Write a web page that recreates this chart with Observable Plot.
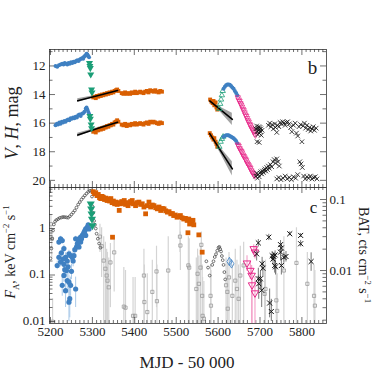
<!DOCTYPE html>
<html><head><meta charset="utf-8">
<script src="https://cdn.jsdelivr.net/npm/d3@7"></script>
<script src="https://cdn.jsdelivr.net/npm/@observablehq/plot@0.6"></script>
<style>
html,body{margin:0;padding:0;background:#fff;}
#chart{position:relative;width:374px;height:374px;overflow:hidden;font-family:"Liberation Serif","DejaVu Serif",serif;color:#222;}
#chart svg{position:absolute;left:0;font-family:"Liberation Serif","DejaVu Serif",serif !important;}
.lab{position:absolute;white-space:nowrap;line-height:1;}
sup,sub{font-size:0.62em;line-height:0;}
</style></head><body><div id="chart"></div>
<script>
// ---------- tick values ----------
const xMinor = d3.range(5200, 5851, 10);
const xMajor = [5200, 5300, 5400, 5500, 5600, 5700, 5800];
const xLabels = [5200, 5300, 5400, 5500, 5600, 5700, 5800];
const magMajor = [12, 14, 16, 18, 20];
const magMinor = [11, 13, 15, 17, 19];
const faMajor = [0.01, 0.1, 1];
const faMinor = [0.02,0.03,0.04,0.05,0.06,0.07,0.08,0.09,0.2,0.3,0.4,0.5,0.6,0.7,0.8,0.9,2,3,4,5,6,7];
const batMajor = [0.01, 0.1];
const batMinor = [0.002,0.003,0.004,0.005,0.006,0.007,0.008,0.009,0.02,0.03,0.04,0.05,0.06,0.07,0.08,0.09];

// ---------- panel b : magnitudes [MJD-50000, mag] ----------
const vBlueA = [[5212,12.0],[5216,12.05],[5220,11.95],[5224,11.9],[5228,11.85],[5231,11.9],[5234,11.8],[5237,11.85],[5240,11.9],[5243,11.8],[5246,11.85],[5249,11.75],[5252,11.8],[5255,11.7],[5258,11.75],[5261,11.65],[5264,11.6],[5267,11.65],[5270,11.55],[5273,11.5],[5276,11.45],[5278,11.5],[5280,11.35],[5282,11.3],[5284,11.25],[5286,11.15],[5288,11.2],[5290,11.3],[5292,11.4]];
const hBlueA = [[5212,16.15],[5215,16.05],[5218,16.1],[5221,15.95],[5224,16.05],[5227,15.9],[5230,15.95],[5233,15.85],[5236,15.9],[5239,15.8],[5242,15.75],[5245,15.8],[5248,15.65],[5251,15.7],[5254,15.6],[5257,15.65],[5260,15.55],[5263,15.6],[5266,15.45],[5269,15.4],[5272,15.5],[5275,15.35],[5278,15.3],[5281,15.2],[5284,15.0],[5286,14.9],[5288,15.05],[5290,15.2],[5292,15.35]];
const vGreenA = [[5293,11.8],[5294,12.0],[5295,12.15],[5296,12.6],[5298,13.65],[5299,13.85]];
const hGreenA = [[5294,15.5],[5295,15.7],[5297,16.1],[5298,16.35]];
const vOrangeA = [[5302,14.2],[5305,14.15],[5308,14.25],[5311,14.1],[5314,14.15],[5317,14.05],[5320,14.1],[5323,14.0],[5326,14.05],[5329,13.95],[5332,14.0],[5335,13.9],[5338,13.95],[5341,13.85],[5344,13.9],[5347,13.8],[5350,13.85],[5353,13.75],[5356,13.7],[5359,13.65],[5362,13.75],[5370,13.9],[5374,13.95],[5378,13.85],[5382,13.95],[5386,13.9],[5390,13.95],[5394,13.85],[5398,13.9],[5402,13.8],[5406,13.9],[5410,13.85],[5414,13.8],[5418,13.85],[5422,13.9],[5426,13.8],[5430,13.75],[5434,13.85],[5438,13.7],[5442,13.75],[5446,13.8],[5450,13.7],[5454,13.8],[5458,13.85],[5462,13.75],[5466,13.8]];
const hOrangeA = [[5302,16.6],[5305,16.55],[5308,16.65],[5311,16.5],[5314,16.5],[5317,16.4],[5320,16.45],[5323,16.35],[5326,16.4],[5329,16.3],[5332,16.3],[5335,16.2],[5338,16.25],[5341,16.15],[5344,16.15],[5347,16.05],[5350,16.1],[5353,15.95],[5356,15.9],[5359,15.8],[5362,15.9],[5370,16.1],[5374,16.15],[5378,16.05],[5382,16.2],[5386,16.1],[5390,16.15],[5394,16.05],[5398,16.1],[5402,16.0],[5406,16.1],[5410,16.05],[5414,16.0],[5418,16.05],[5422,16.1],[5426,16.0],[5430,15.95],[5434,16.05],[5438,15.9],[5442,15.95],[5446,15.9],[5450,15.95],[5454,16.0],[5458,16.05],[5462,15.95],[5466,16.0]];
const vOrangeB = [[5581,14.35],[5584,14.5],[5587,14.6],[5589,14.45],[5591,14.75],[5594,14.55],[5596,14.9],[5598,15.05]];
const hOrangeB = [[5580,16.7],[5583,16.85],[5586,17.0],[5589,17.15],[5591,17.05],[5594,17.3],[5596,17.45],[5598,17.65]];
const vGreenB = [[5603,15.0],[5605,14.65],[5607,14.35],[5609,14.05],[5611,13.75]];
const hGreenB = [[5603,17.65],[5606,17.3],[5609,17.1],[5612,16.95]];
const vBlueB = [[5613,13.6],[5616,13.45],[5619,13.35],[5622,13.3],[5625,13.3],[5628,13.32],[5631,13.4],[5634,13.5],[5637,13.6],[5640,13.75],[5643,13.9],[5646,14.05]];
const hBlueB = [[5613,16.95],[5616,16.9],[5619,16.85],[5622,16.85],[5625,16.85],[5628,16.9],[5631,16.95],[5634,17.0],[5637,17.05],[5640,17.15],[5643,17.25],[5646,17.4]];
const vPinkB = [[5647,14.2],[5649,14.35],[5651,14.45],[5653,14.6],[5655,14.7],[5657,14.85],[5659,15.0],[5661,15.1],[5663,15.25],[5665,15.4],[5667,15.5],[5669,15.65],[5671,15.8],[5673,15.9],[5675,16.05],[5677,16.15],[5679,16.3],[5681,16.4],[5683,16.5],[5685,16.6],[5687,16.75],[5689,16.85]];
const hPinkB = [[5647,17.5],[5649,17.6],[5651,17.75],[5653,17.85],[5655,17.95],[5657,18.05],[5659,18.2],[5661,18.3],[5663,18.4],[5665,18.5],[5667,18.6],[5669,18.75],[5671,18.85],[5673,18.95],[5675,19.05],[5677,19.15],[5679,19.3],[5681,19.4],[5683,19.5],[5685,19.6],[5687,19.7]];
const vBlackB = [[5690,16.4],[5692,16.2],[5693,16.6],[5694,16.35],[5695,16.8],[5696,16.5],[5697,16.25],[5698,16.7],[5699,16.45],[5700,16.3],[5701,16.6],[5702,16.4],[5703,16.85],[5693,17.3],[5698,17.35],[5705,16.5],[5720,16.15],[5723,16.0],[5726,16.25],[5729,16.1],[5732,16.4],[5735,16.05],[5737,16.3],[5740,16.65],[5742,16.15],[5745,16.25],[5748,15.95],[5751,16.05],[5754,15.9],[5757,16.0],[5760,16.15],[5763,15.95],[5766,15.9],[5770,16.05],[5773,16.3],[5776,16.6],[5780,16.15],[5784,16.0],[5787,16.7],[5790,16.9],[5793,16.25],[5797,16.1],[5800,17.3],[5803,16.2],[5806,16.0],[5809,16.35],[5812,16.15],[5815,16.45],[5818,16.3],[5821,16.55],[5824,16.4],[5827,16.25],[5830,16.5],[5834,16.35]];
const hBlackB = [[5690,19.7],[5692,19.5],[5694,19.85],[5696,19.6],[5698,19.75],[5700,19.5],[5702,19.4],[5704,19.55],[5706,19.35],[5708,19.45],[5710,19.3],[5712,19.2],[5714,19.35],[5716,19.1],[5718,19.25],[5720,19.0],[5722,19.15],[5725,18.9],[5728,19.05],[5731,18.7],[5734,18.55],[5737,18.8],[5740,18.5],[5743,18.7],[5746,19.0],[5740,19.9],[5745,19.8],[5750,19.95],[5755,19.85],[5760,19.7],[5765,19.9],[5770,19.8],[5775,19.95],[5780,19.75],[5785,19.85],[5790,19.6],[5795,18.7],[5798,18.85],[5801,19.1],[5804,19.7],[5808,19.9],[5812,19.75],[5816,19.85],[5820,19.7],[5824,19.9],[5828,19.8],[5832,19.75],[5836,19.9]];
// linear fits [MJD, mag, lower, upper]
const fitVA = [[5265,14.43,14.30,14.56],[5312,14.08,14.03,14.13],[5360,13.72,13.65,13.79]];
const fitHA = [[5265,16.83,16.70,16.96],[5312,16.38,16.33,16.43],[5360,15.94,15.87,16.01]];
const fitVB = [[5580,14.45,14.40,14.50],[5607,15.09,14.90,15.28],[5634,15.73,15.30,16.16]];
const fitHB = [[5580,16.73,16.68,16.78],[5607,17.97,17.75,18.19],[5634,19.20,18.70,19.70]];

// ---------- panel c : F_A (left axis) [MJD, F, lo, hi] ----------
const faBlue = [[5216,0.16,0.13,0.2],[5220,0.51,0.44,0.58],[5224,0.6,0.52,0.68],[5228,0.55,0.47,0.63],[5232,0.37,0.3,0.44],[5220,0.24,0.19,0.3],[5224,0.19,0.15,0.24],[5232,0.17,0.13,0.22],[5236,0.24,0.19,0.3],[5240,0.2,0.15,0.26],[5244,0.285,0.23,0.34],[5248,0.26,0.2,0.32],[5252,0.24,0.18,0.3],[5256,0.26,0.21,0.32],[5238,0.125,0.09,0.17],[5228,0.06,0.035,0.1],[5240,0.076,0.05,0.11],[5244,0.07,0.04,0.1],[5248,0.06,0.035,0.09],[5236,0.046,0.02,0.08],[5260,0.05,0.02,0.09],[5244,0.026,0.01,0.06],[5246,0.031,0.012,0.07],[5232,0.098,0.07,0.13],[5226,0.3,0.24,0.36],[5230,0.22,0.17,0.28],[5234,0.13,0.09,0.18],[5242,0.15,0.1,0.2],[5250,0.12,0.08,0.17],[5254,0.2,0.15,0.26],[5258,0.35,0.29,0.42],[5262,0.4,0.33,0.47],[5264,0.47,0.4,0.55],[5266,0.5,0.43,0.58],[5268,0.4,0.34,0.47],[5268,0.6,0.52,0.68],[5270,0.55,0.48,0.63],[5272,0.51,0.44,0.58],[5272,0.65,0.57,0.73],[5274,0.6,0.53,0.68],[5276,0.71,0.63,0.8],[5278,0.75,0.67,0.84],[5280,0.83,0.74,0.92],[5282,0.9,0.8,1.0],[5284,0.98,0.88,1.08],[5284,0.71,0.63,0.8],[5286,1.0,0.9,1.1],[5288,1.07,0.96,1.18],[5290,1.2,1.08,1.32],[5292,0.98,0.88,1.08],[5260,0.6,0.52,0.68]];
const faGreen = [[5296,3.4],[5297,2.65],[5298,2.07],[5299,1.6],[5300,1.16]];
const faOrange = [[5302,6.2],[5305,5.6],[5308,5.9],[5311,5.1],[5314,5.4],[5317,4.6],[5320,4.4],[5323,4.9],[5326,4.7],[5329,4.2],[5332,4.5],[5335,4.0],[5338,4.3],[5341,3.9],[5344,4.4],[5347,3.6],[5350,3.9],[5353,3.4],[5356,3.7],[5359,3.3],[5362,3.6],[5364,2.45],[5367,3.4],[5370,3.8],[5373,3.5],[5376,4.0],[5379,3.3],[5382,3.6],[5385,3.1],[5388,3.5],[5391,3.8],[5395,4.0],[5398,3.4],[5403,3.1],[5407,3.6],[5411,3.7],[5415,3.3],[5419,3.4],[5423,2.9],[5427,2.07],[5431,3.1],[5435,3.7],[5439,2.9],[5443,3.2],[5447,3.1],[5451,2.8],[5455,2.65],[5459,2.9],[5463,2.44],[5467,2.7],[5471,2.65],[5475,2.4],[5479,2.25],[5483,2.3],[5487,2.07],[5491,2.1],[5494,1.9],[5498,1.95],[5502,1.75],[5506,1.8],[5510,1.9],[5514,1.7],[5518,1.6],[5522,1.65],[5526,1.49],[5530,1.6],[5532,1.25],[5534,1.35],[5536,1.3],[5538,1.45],[5540,1.5],[5542,1.2],[5528,0.81],[5348,0.65],[5554,0.73],[5562,0.31]];
const faBlueOpen = [[5627,0.195,0.17,0.23],[5632,0.174,0.15,0.2]];
const faPink = [[5669,0.18,0.12,0.26],[5677,0.125,0.08,0.2],[5680,0.098,0.009,0.16],[5681,0.061,0.009,0.12],[5685,0.366,0.28,0.45],[5688,0.31,0.22,0.4],[5688,0.041,0.009,0.09]];
const faBlack = [[5692,0.285,0.2,0.38],[5696,0.49,0.4,0.58],[5696,0.083,0.04,0.14],[5697,0.065,0.03,0.1],[5701,0.083,0.05,0.12],[5704,0.047,0.02,0.08],[5705,0.174,0.12,0.24],[5707,0.14,0.09,0.2],[5721,0.65,0.55,0.75],[5723,0.025,0.012,0.05],[5727,0.0164,0.01,0.03],[5729,0.26,0.2,0.32],[5731,0.22,0.17,0.28],[5733,0.25,0.2,0.3],[5735,0.16,0.11,0.22],[5737,0.15,0.1,0.21],[5736,0.27,0.22,0.33],[5749,0.45,0.36,0.55],[5751,0.38,0.3,0.47],[5749,0.31,0.2,0.45],[5751,0.16,0.1,0.24],[5757,0.24,0.18,0.3],[5762,0.25,0.19,0.32],[5771,0.77,0.7,0.85],[5797,0.71,0.64,0.78],[5797,0.47,0.4,0.55],[5822,0.195,0.12,0.3]];

// ---------- panel c : BAT (right axis) ----------
const batDark = [[5200,0.0148],[5202,0.0204],[5204,0.0282],[5206,0.0366],[5208,0.0445],[5211,0.049],[5214,0.0514],[5218,0.053],[5222,0.055],[5226,0.0558],[5230,0.0567],[5234,0.0565],[5238,0.056],[5242,0.0555],[5246,0.058],[5250,0.0615],[5254,0.0656],[5258,0.07],[5262,0.077],[5266,0.085],[5270,0.092],[5274,0.1],[5278,0.107],[5282,0.114],[5286,0.121],[5290,0.128],[5294,0.132],[5298,0.134],[5299,0.11],[5300,0.08],[5302,0.065],[5304,0.05],[5306,0.044],[5308,0.039],[5310,0.033],[5313,0.028],[5316,0.024],[5319,0.021],[5572,0.0135],[5576,0.011],[5580,0.0085],[5586,0.012],[5589,0.0135],[5592,0.0155],[5595,0.017],[5598,0.019],[5601,0.021],[5603,0.0215],[5605,0.02],[5607,0.0185],[5609,0.016],[5611,0.014],[5613,0.012],[5615,0.0095],[5617,0.0075]];
const batLight = [[5201,0.045,0.03,0.06],[5203,0.028,0.015,0.04],[5205,0.0019,0.0015,0.004],[5318,0.03,0.018,0.045],[5322,0.022,0.008,0.04],[5327,0.0138,0.0015,0.03],[5331,0.0106,0.0015,0.025],[5334,0.0085,0.0015,0.02],[5336,0.0072,0.0015,0.018],[5339,0.0058,0.0015,0.015],[5343,0.013,0.003,0.024],[5352,0.018,0.005,0.03],[5375,0.0031,0.0015,0.011],[5379,0.003,0.0015,0.01],[5397,0.0023,0.0015,0.008],[5402,0.0023,0.0015,0.008],[5423,0.0085,0.0015,0.02],[5424,0.0036,0.0015,0.012],[5431,0.0026,0.0015,0.009],[5443,0.005,0.0015,0.014],[5453,0.0097,0.003,0.022],[5454,0.0037,0.0015,0.012],[5481,0.01,0.0015,0.03],[5509,0.03,0.018,0.05],[5510,0.0225,0.01,0.035],[5529,0.0118,0.0015,0.03],[5531,0.011,0.0015,0.028],[5548,0.0055,0.0015,0.015],[5551,0.009,0.0015,0.02],[5554,0.0065,0.0015,0.016],[5558,0.011,0.0015,0.022],[5560,0.023,0.01,0.035],[5562,0.0044,0.0015,0.012],[5563,0.0023,0.0015,0.008],[5566,0.0021,0.0015,0.007],[5582,0.0044,0.0015,0.012],[5583,0.0032,0.0015,0.01],[5619,0.0062,0.0015,0.015],[5622,0.005,0.0015,0.013],[5623,0.0029,0.0015,0.009],[5626,0.008,0.0015,0.018],[5634,0.0044,0.0015,0.012],[5641,0.0072,0.0015,0.02],[5645,0.0055,0.0015,0.014],[5649,0.004,0.0015,0.012],[5653,0.0085,0.0015,0.022],[5661,0.0118,0.0015,0.025],[5711,0.0047,0.0015,0.012],[5713,0.0055,0.0015,0.014],[5739,0.0038,0.0015,0.011],[5741,0.0027,0.0015,0.009],[5757,0.01,0.0015,0.03],[5787,0.0128,0.0015,0.04],[5813,0.0065,0.0015,0.018],[5829,0.0044,0.0015,0.012],[5831,0.0032,0.0015,0.01]];

// ---------- build ----------
const C = {blue:"#3f80c2", green:"#1b9e77", orange:"#d95f02", pink:"#e7298a", black:"#111", dark:"#505050", light:"#9a9a9a", lightBar:"#d4d4d4", tick:"#333"};
const W = 374, ML = 49, MR = 48;
const FW = W - ML - MR;
const TH = 187 - 49, BH = 187 - 51;
const xDomain = [5197.6, 5858.7];
const FONT = '"Liberation Serif","DejaVu Serif",serif';
const TF = {fontFamily: FONT, fontSize: 13};

const P = a => a.map(([x, y, lo, hi]) => ({x, y, lo, hi}));
const F = (arrs) => arrs.flatMap(([id, a]) => a.map(([x, y, lo, hi]) => ({id, x, y, lo, hi})));

function xTicks(fh) {
  const minor = xMinor.filter(d => d % 100 !== 0);
  const o = {x: d => d, stroke: C.tick, strokeWidth: 0.7};
  return [
    Plot.tickX(minor, {...o, insetBottom: fh - 3}),
    Plot.tickX(minor, {...o, insetTop: fh - 3}),
    Plot.tickX(xMajor, {...o, insetBottom: fh - 6}),
    Plot.tickX(xMajor, {...o, insetTop: fh - 6})
  ];
}
function yTicks(major, minor, side) {
  const o = {y: d => d, stroke: C.tick, strokeWidth: 0.7};
  const m = [];
  if (side !== "right") m.push(Plot.tickY(minor, {...o, insetRight: FW - 3.5}), Plot.tickY(major, {...o, insetRight: FW - 6}));
  if (side !== "left") m.push(Plot.tickY(minor, {...o, insetLeft: FW - 3.5}), Plot.tickY(major, {...o, insetLeft: FW - 6}));
  return m;
}
const dot = (data, fill, symbol, r, extra = {}) => Plot.dot(P(data), {x: "x", y: "y", fill, stroke: "none", symbol, r, clip: true, ...extra});
const odot = (data, stroke, symbol, r, extra = {}) => Plot.dot(P(data), {x: "x", y: "y", fill: "none", stroke, strokeWidth: 0.8, symbol, r, clip: true, ...extra});
const bars = (data, stroke, sw = 1) => Plot.ruleX(P(data), {x: "x", y1: "lo", y2: "hi", stroke, strokeWidth: sw, clip: true});

const fits = F([["va", fitVA], ["ha", fitHA], ["vb", fitVB], ["hb", fitHB]]);
const baseStyle = {fontFamily: FONT, fontSize: "13px", background: "transparent", color: "#222", overflow: "visible"};

const topSvg = Plot.plot({
  width: W, height: 187, marginTop: 49, marginBottom: 0, marginLeft: ML, marginRight: MR,
  style: baseStyle,
  x: {domain: xDomain, axis: null},
  y: {domain: [10.85, 20.5], reverse: true},
  marks: [
    ...xTicks(TH), ...yTicks(magMajor, magMinor, "both"),
    Plot.areaY(fits, {x: "x", y1: "lo", y2: "hi", z: "id", fill: "#666", fillOpacity: 0.6}),
    dot(vBlueA, C.blue, "circle", 2), dot(hBlueA, C.blue, "circle", 2),
    dot(vOrangeA, C.orange, "square", 2.2), dot(hOrangeA, C.orange, "square", 2.2),
    dot(vOrangeB, C.orange, "square", 2.2), dot(hOrangeB, C.orange, "square", 2.2),
    Plot.line(fits, {x: "x", y: "y", z: "id", stroke: "#000", strokeWidth: 1.6}),
    dot(vGreenA, C.green, "triangle", 2.6, {rotate: 180}), dot(hGreenA, C.green, "triangle", 2.6, {rotate: 180}),
    odot(vGreenB, C.green, "triangle", 2), odot(hGreenB, C.green, "triangle", 2),
    dot(vBlueB, C.blue, "circle", 2), dot(hBlueB, C.blue, "circle", 2),
    odot(vPinkB, C.pink, "triangle", 2, {rotate: 180}), odot(hPinkB, C.pink, "triangle", 2, {rotate: 180}),
    odot(vBlackB, C.black, "times", 2.2), odot(hBlackB, C.black, "times", 2.2),
    Plot.frame({stroke: C.tick, strokeWidth: 0.8}),
    Plot.axisY(magMajor, {tickSize: 0, tickPadding: 4, label: null, ...TF}),
    Plot.text(["b"], {text: d => d, frameAnchor: "top-right", dx: -14, dy: 18, fontSize: 19, fontFamily: FONT, textAnchor: "middle", lineAnchor: "middle"})
  ]
});

const batSvg = Plot.plot({
  width: W, height: 187, marginTop: 0, marginBottom: 51, marginLeft: ML, marginRight: MR,
  style: baseStyle,
  x: {domain: xDomain, axis: null},
  y: {type: "log", domain: [0.001795, 0.1476]},
  marks: [
    bars(batLight, C.lightBar, 1.2),
    odot(batLight, C.light, "square", 1.8, {strokeWidth: 0.8}),
    odot(batDark, C.dark, "circle", 1.4, {strokeWidth: 0.8}),
    ...yTicks(batMajor, batMinor, "right"),
    Plot.axisY(batMajor, {anchor: "right", tickSize: 0, tickPadding: 3, label: null, tickFormat: d => String(d), ...TF})
  ]
});

const bottomSvg = Plot.plot({
  width: W, height: 187, marginTop: 0, marginBottom: 51, marginLeft: ML, marginRight: MR,
  style: baseStyle,
  x: {domain: xDomain},
  y: {type: "log", domain: [0.00906, 7.62]},
  marks: [
    ...xTicks(BH), ...yTicks(faMajor, faMinor, "left"),
    bars(faBlue, "#a9c9e8", 1),
    bars(faPink, "#f4a6cc", 1.2),
    bars(faBlack, "#777", 1),
    bars(faBlueOpen, "#a9c9e8", 1),
    dot(faBlue, C.blue, "circle", 2.6),
    dot(faOrange, C.orange, "square", 2.7),
    dot(faGreen, C.green, "triangle", 3, {rotate: 180}),
    odot(faBlueOpen, C.blue, "diamond", 2.6),
    odot(faPink, C.pink, "triangle", 2.8, {rotate: 180, strokeWidth: 1}),
    odot(faBlack, C.black, "times", 2.4, {strokeWidth: 1}),
    Plot.frame({stroke: C.tick, strokeWidth: 0.8}),
    Plot.axisX(xLabels, {tickSize: 0, tickPadding: 3, label: null, tickFormat: d => String(d), ...TF}),
    Plot.axisY(faMajor, {tickSize: 0, tickPadding: 4, label: null, tickFormat: d => String(d), dy: -1, ...TF}),
    Plot.text(["c"], {text: d => d, frameAnchor: "top-right", dx: -13, dy: 20, fontSize: 17, fontFamily: FONT, textAnchor: "middle", lineAnchor: "middle"})
  ]
});

const root = document.getElementById("chart");
topSvg.style.top = "0px";
batSvg.style.top = "187px";
bottomSvg.style.top = "187px";
root.append(topSvg, batSvg, bottomSvg);

function label(html, x, y, rot, size) {
  const d = document.createElement("div");
  d.className = "lab";
  d.innerHTML = html;
  d.style.left = x + "px";
  d.style.top = y + "px";
  d.style.fontSize = size + "px";
  d.style.transform = `translate(-50%,-50%) rotate(${rot}deg)`;
  root.append(d);
}
label("<i>V</i>, <i>H</i>, mag", 12, 123, -90, 18);
label("<i>F</i><sub>A</sub>, keV cm<sup>−2</sup> s<sup>−1</sup>", 11, 252, -90, 14);
label("BAT, cts cm<sup>−2</sup> s<sup>−1</sup>", 363, 255, 90, 14);
label("MJD - 50 000", 187, 362, 0, 17);
</script></body></html>
